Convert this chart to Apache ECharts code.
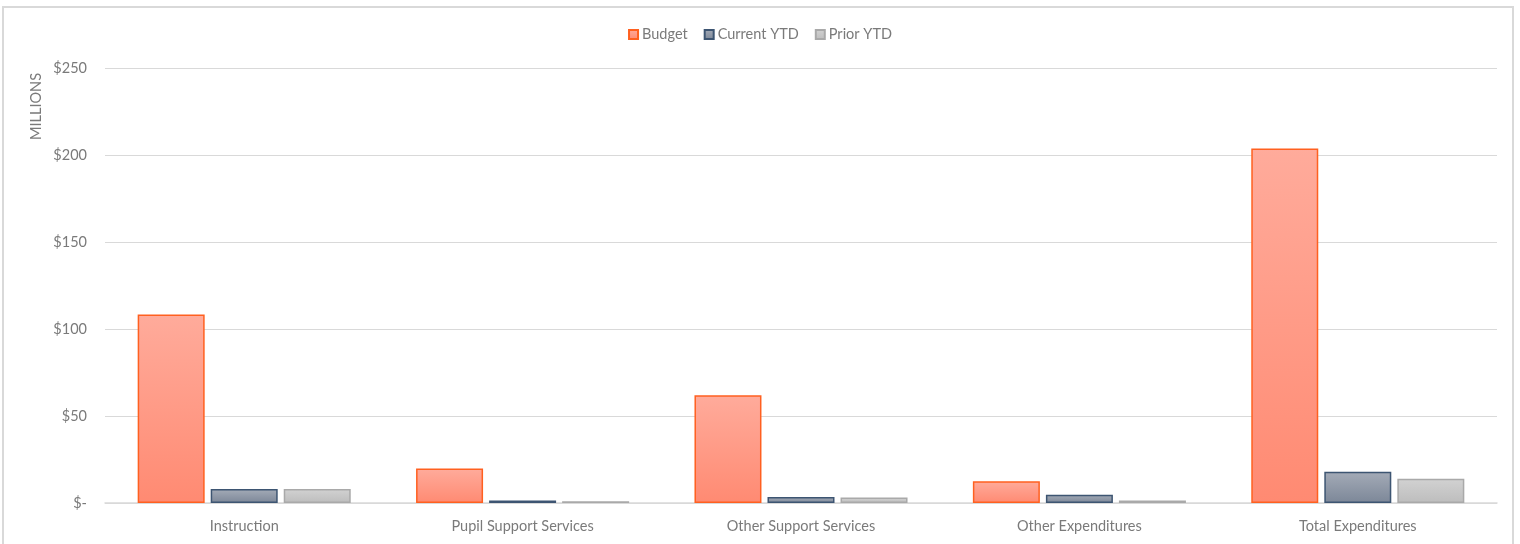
<!DOCTYPE html>
<html>
<head>
<meta charset="utf-8">
<script src="https://cdn.jsdelivr.net/npm/echarts@6/dist/echarts.min.js"></script>
<style>
html,body{margin:0;padding:0;background:#fff;}
#frame{position:absolute;left:2px;top:6px;width:1512px;height:540px;border:2px solid #d9d9d9;border-bottom:none;box-sizing:border-box;}
#chart{position:absolute;left:0;top:0;width:1520px;height:544px;}
</style>
</head>
<body>
<div id="frame"></div>
<div id="chart"></div>
<script>
var categories = ['Instruction', 'Pupil Support Services', 'Other Support Services', 'Other Expenditures', 'Total Expenditures'];
var budget = [108.4, 19.8, 61.9, 12.5, 203.7];
var currentYTD = [8.0, 1.5, 3.4, 4.8, 18.0];
var priorYTD = [8.0, 1.0, 3.1, 1.4, 14.0];
var yTicks = [0, 50, 100, 150, 200, 250];

var font = 'Lato, "Open Sans", sans-serif';
var txt = '#7a7a7a';
var fs = 14.5;

function grad(top, bottom) {
  return new echarts.graphic.LinearGradient(0, 0, 0, 1, [
    {offset: 0, color: top}, {offset: 1, color: bottom}
  ]);
}

var chart = echarts.init(document.getElementById('chart'));
chart.setOption({
  animation: false,
  textStyle: {fontFamily: font},
  legend: {
    top: 22,
    left: 'center',
    icon: 'rect',
    itemWidth: 9,
    itemHeight: 9,
    itemGap: 16,
    textStyle: {color: txt, fontSize: fs, fontFamily: font, padding: [0, 0, 0, -1]},
    data: ['Budget', 'Current YTD', 'Prior YTD']
  },
  grid: {left: 105, right: 23, top: 68, bottom: 41, containLabel: false},
  graphic: [{
    type: 'text',
    left: 29,
    top: 73,
    rotation: Math.PI / 2,
    style: {text: 'MILLIONS', fill: txt, font: fs + 'px ' + font}
  }],
  xAxis: {
    type: 'category',
    data: categories,
    axisLine: {lineStyle: {color: '#d9d9d9', width: 1.5}},
    axisTick: {show: false},
    axisLabel: {color: txt, fontSize: fs, margin: 16, fontFamily: font}
  },
  yAxis: {
    type: 'value',
    min: yTicks[0],
    max: yTicks[yTicks.length - 1],
    interval: 50,
    axisLine: {show: false},
    axisTick: {show: false},
    splitLine: {lineStyle: {color: '#d9d9d9', width: 1}},
    axisLabel: {
      color: txt, fontSize: fs, margin: 18, fontFamily: font,
      formatter: function (v) { return v === 0 ? '$-' : '$' + v; }
    }
  },
  series: [{
    name: 'Budget',
    type: 'bar',
    data: budget,
    barWidth: 67,
    barGap: '9%',
    itemStyle: {color: grad('#ffab9b', '#ff8a72'), borderColor: '#ff6020', borderWidth: 1.5}
  }, {
    name: 'Current YTD',
    type: 'bar',
    data: currentYTD,
    barWidth: 67,
    barGap: '9%',
    itemStyle: {color: grad('#a4abb7', '#7c8798'), borderColor: '#3d5572', borderWidth: 1.5}
  }, {
    name: 'Prior YTD',
    type: 'bar',
    data: priorYTD,
    barWidth: 67,
    barGap: '9%',
    itemStyle: {color: grad('#d2d2d2', '#bdbdbd'), borderColor: '#a9a9a9', borderWidth: 1.5}
  }]
});
</script>
</body>
</html>
